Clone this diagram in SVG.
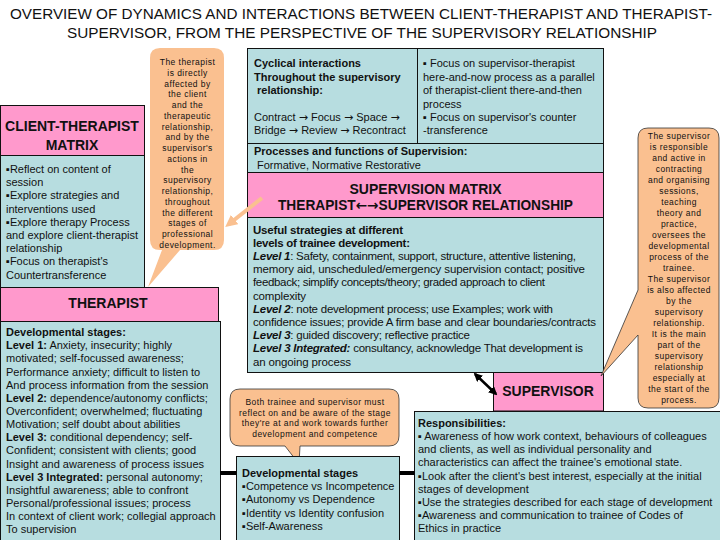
<svg xmlns="http://www.w3.org/2000/svg" width="720" height="540" viewBox="0 0 720 540">
<style>
text{font-family:"Liberation Sans",Arial,sans-serif;fill:#111}
.s{font-size:11px}
.m{font-size:11.5px}
.c{font-size:11px}
.b{font-weight:bold}
.bi{font-weight:bold;font-style:italic}
.ar{font-family:"DejaVu Sans",sans-serif}
.h{font-size:14px;font-weight:bold;text-anchor:middle}
.k{font-size:8.5px;letter-spacing:0.45px;text-anchor:middle;fill:#111}
.pk{fill:#ff99cc;stroke:#111;stroke-width:1}
.bl{fill:#b7dde0;stroke:#111;stroke-width:1}
.or{fill:#fac090}
.orb{fill:#fac090;stroke:#333;stroke-width:0.8}
.ttl{font-size:14.5px;text-anchor:middle}
.blk{stroke:#000;stroke-width:4;fill:none}
</style>
<defs>
<marker id="ah" viewBox="0 0 10 10" refX="8" refY="5" markerWidth="3.5" markerHeight="3.5" orient="auto-start-reverse"><path d="M0,0 L10,5 L0,10 z" fill="#000"/></marker>
<marker id="oh" viewBox="0 0 10 10" refX="6" refY="5" markerWidth="3" markerHeight="3" orient="auto"><path d="M0,0 L10,5 L0,10 z" fill="#fac090"/></marker>
</defs>
<rect width="720" height="540" fill="#fff"/>

<g id="title">
<text class="ttl" x="361" y="19" textLength="702" lengthAdjust="spacingAndGlyphs">OVERVIEW OF DYNAMICS AND INTERACTIONS BETWEEN CLIENT-THERAPIST AND THERAPIST-</text>
<text class="ttl" x="362" y="38" textLength="590" lengthAdjust="spacingAndGlyphs">SUPERVISOR, FROM THE PERSPECTIVE OF THE SUPERVISORY RELATIONSHIP</text>
</g>

<g id="client-therapist-matrix">
<rect class="pk" x="0.5" y="105.5" width="144" height="50"/>
<text class="h" x="72" y="131">CLIENT-THERAPIST</text>
<text class="h" x="72" y="150">MATRIX</text>
<rect class="bl" x="0.5" y="155.5" width="144" height="132"/>
<text class="c" x="6" y="173">▪Reflect on content of</text>
<text class="c" x="6" y="186.2">session</text>
<text class="c" x="6" y="199.4">▪Explore strategies and</text>
<text class="c" x="6" y="212.6">interventions used</text>
<text class="c" x="6" y="225.8">▪Explore therapy Process</text>
<text class="c" x="6" y="239">and explore client-therapist</text>
<text class="c" x="6" y="252.2">relationship</text>
<text class="c" x="6" y="265.4">▪Focus on therapist's</text>
<text class="c" x="6" y="278.6">Countertransference</text>
</g>

<g id="therapist">
<rect class="pk" x="0.5" y="287.5" width="218" height="34"/>
<text class="h" x="108" y="308">THERAPIST</text>
<rect class="bl" x="0.5" y="321.5" width="220" height="225"/>
<text class="s" x="6" y="336"><tspan class="b">Developmental stages:</tspan></text>
<text class="s" x="6" y="349.2"><tspan class="b">Level 1:</tspan> Anxiety, insecurity; highly</text>
<text class="s" x="6" y="362.3">motivated; self-focussed awareness;</text>
<text class="s" x="6" y="375.5">Performance anxiety; difficult to listen to</text>
<text class="s" x="6" y="388.6">And process information from the session</text>
<text class="s" x="6" y="401.8"><tspan class="b">Level 2:</tspan> dependence/autonomy conflicts;</text>
<text class="s" x="6" y="414.9">Overconfident; overwhelmed; fluctuating</text>
<text class="s" x="6" y="428.1">Motivation; self doubt about abilities</text>
<text class="s" x="6" y="441.2"><tspan class="b">Level 3:</tspan> conditional dependency; self-</text>
<text class="s" x="6" y="454.4">Confident; consistent with clients; good</text>
<text class="s" x="6" y="467.5">Insight and awareness of process issues</text>
<text class="s" x="6" y="480.7"><tspan class="b">Level 3 Integrated:</tspan> personal autonomy;</text>
<text class="s" x="6" y="493.8">Insightful awareness; able to confront</text>
<text class="s" x="6" y="507">Personal/professional issues; process</text>
<text class="s" x="6" y="520.1">In context of client work; collegial approach</text>
<text class="s" x="6" y="533.3">To supervision</text>
</g>

<g id="therapist-callout">
<path class="or" d="M162,250 L148,287 L180,250 H214 Q224,250 224,240 V58 Q224,48 214,48 H160 Q150,48 150,58 V240 Q150,250 160,250 Z"/>
<text class="k" x="187.5" y="65">The therapist</text>
<text class="k" x="187.5" y="75.8">is directly</text>
<text class="k" x="187.5" y="86.5">affected by</text>
<text class="k" x="187.5" y="97.3">the client</text>
<text class="k" x="187.5" y="108">and the</text>
<text class="k" x="187.5" y="118.8">therapeutic</text>
<text class="k" x="187.5" y="129.6">relationship,</text>
<text class="k" x="187.5" y="140.3">and by the</text>
<text class="k" x="187.5" y="151.1">supervisor's</text>
<text class="k" x="187.5" y="161.8">actions in</text>
<text class="k" x="187.5" y="172.6">the</text>
<text class="k" x="187.5" y="183.4">supervisory</text>
<text class="k" x="187.5" y="194.1">relationship,</text>
<text class="k" x="187.5" y="204.9">throughout</text>
<text class="k" x="187.5" y="215.7">the different</text>
<text class="k" x="187.5" y="226.4">stages of</text>
<text class="k" x="187.5" y="237.2">professional</text>
<text class="k" x="187.5" y="248">development.</text>
</g>

<g id="supervision-matrix">
<rect class="bl" x="247.5" y="48.5" width="356" height="95"/>
<line x1="417.5" y1="48.5" x2="417.5" y2="143.5" stroke="#111"/>
<text class="s b" x="254" y="67">Cyclical interactions</text>
<text class="s b" x="254" y="81">Throughout the supervisory</text>
<text class="s b" x="257" y="94">relationship:</text>
<text class="s" x="254" y="121">Contract <tspan class="ar">→</tspan> Focus <tspan class="ar">→</tspan> Space <tspan class="ar">→</tspan></text>
<text class="s" x="254" y="134">Bridge <tspan class="ar">→</tspan> Review <tspan class="ar">→</tspan> Recontract</text>
<text class="s" x="423" y="67">▪ Focus on supervisor-therapist</text>
<text class="s" x="423" y="81">here-and-now process as a parallel</text>
<text class="s" x="423" y="94">of therapist-client there-and-then</text>
<text class="s" x="423" y="108">process</text>
<text class="s" x="423" y="121">▪ Focus on supervisor's counter</text>
<text class="s" x="423" y="134">-transference</text>
<rect class="bl" x="247.5" y="143.5" width="356" height="29"/>
<text class="s b" x="254" y="155">Processes and functions of Supervision:</text>
<text class="s" x="257" y="169">Formative, Normative  Restorative</text>
<rect class="pk" x="247.5" y="172.5" width="356" height="45"/>
<text class="h" x="425.5" y="193.5">SUPERVISION MATRIX</text>
<text class="h" x="425.5" y="210" textLength="295" lengthAdjust="spacingAndGlyphs">THERAPIST<tspan class="ar">←→</tspan>SUPERVISOR RELATIONSHIP</text>
<rect class="bl" x="247.5" y="217.5" width="356" height="155"/>
<text class="m b" x="253" y="233.5" textLength="150">Useful strategies at different</text>
<text class="m b" x="253" y="246.7" textLength="157">levels of trainee development:</text>
<text class="m" x="253" y="259.9" textLength="323"><tspan class="bi">Level 1</tspan>: Safety, containment, support, structure, attentive listening,</text>
<text class="m" x="253" y="273.1" textLength="332">memory aid, unscheduled/emergency  supervision contact; positive</text>
<text class="m" x="253" y="286.3" textLength="292">feedback;  simplify concepts/theory; graded approach to client</text>
<text class="m" x="253" y="299.5" textLength="53">complexity</text>
<text class="m" x="253" y="312.7" textLength="300"><tspan class="bi">Level 2</tspan>: note development process; use Examples; work with</text>
<text class="m" x="253" y="325.9" textLength="343">confidence issues; provide A firm base and clear boundaries/contracts</text>
<text class="m" x="253" y="339.1" textLength="217"><tspan class="bi">Level 3</tspan>: guided discovery; reflective practice</text>
<text class="m" x="253" y="352.3" textLength="330"><tspan class="bi">Level 3 Integrated:</tspan> consultancy, acknowledge That development is</text>
<text class="m" x="253" y="365.5" textLength="98">an ongoing process</text>
</g>

<g id="supervisor">
<rect class="pk" x="493.5" y="372.5" width="110" height="38.5"/>
<text class="h" x="548" y="396">SUPERVISOR</text>
</g>

<g id="supervisor-callout">
<path class="orb" d="M648,128 H709 Q719,128 719,138 V398 Q719,408 709,408 H648 Q638,408 638,398 V335 L601,376 L638,290 V138 Q638,128 648,128 Z"/>
<text class="k" x="679" y="139">The supervisor</text>
<text class="k" x="679" y="150">is responsible</text>
<text class="k" x="679" y="161">and active in</text>
<text class="k" x="679" y="172">contracting</text>
<text class="k" x="679" y="183">and organising</text>
<text class="k" x="679" y="194">sessions,</text>
<text class="k" x="679" y="205">teaching</text>
<text class="k" x="679" y="216">theory and</text>
<text class="k" x="679" y="227">practice,</text>
<text class="k" x="679" y="238">oversees the</text>
<text class="k" x="679" y="249">developmental</text>
<text class="k" x="679" y="260">process of the</text>
<text class="k" x="679" y="270.5">trainee.</text>
<text class="k" x="679" y="281.5">The supervisor</text>
<text class="k" x="679" y="292.5">is also affected</text>
<text class="k" x="679" y="303.5">by the</text>
<text class="k" x="679" y="314.5">supervisory</text>
<text class="k" x="679" y="325.5">relationship.</text>
<text class="k" x="679" y="336.5">It is the main</text>
<text class="k" x="679" y="347.5">part of the</text>
<text class="k" x="679" y="358.5">supervisory</text>
<text class="k" x="679" y="369.5">relationship</text>
<text class="k" x="679" y="380.5">especially at</text>
<text class="k" x="679" y="391.5">the start of the</text>
<text class="k" x="679" y="402.5">process.</text>
</g>

<g id="stage-callout">
<path class="orb" d="M240,389 H389 Q399,389 399,399 V436 Q399,446 389,446 H300 L299,464 L285,446 H240 Q230,446 230,436 V399 Q230,389 240,389 Z"/>
<text class="k" x="315" y="405">Both trainee and supervisor must</text>
<text class="k" x="315" y="415.5">reflect on and be aware of the stage</text>
<text class="k" x="315" y="426">they're at and work towards further</text>
<text class="k" x="315" y="437">development and competence</text>
</g>

<g id="developmental-stages">
<rect class="bl" x="236.5" y="456.5" width="163" height="90"/>
<text class="s b" x="242" y="477">Developmental stages</text>
<text class="s" x="242" y="490.2">▪Competence vs Incompetence</text>
<text class="s" x="242" y="503.4">▪Autonomy vs Dependence</text>
<text class="s" x="242" y="516.6">▪Identity vs Identity confusion</text>
<text class="s" x="242" y="529.8">▪Self-Awareness</text>
</g>

<g id="responsibilities">
<rect class="bl" x="414.5" y="411.5" width="310" height="140"/>
<text class="s b" x="418" y="426.7">Responsibilities:</text>
<text class="s" x="418" y="439.9">▪ Awareness of how work context, behaviours of colleagues</text>
<text class="s" x="418" y="453.1">and clients, as well as individual personality and</text>
<text class="s" x="418" y="466.3">characteristics can affect the trainee's emotional state.</text>
<text class="s" x="418" y="479.5">▪Look after the client's best interest, especially at the initial</text>
<text class="s" x="418" y="492.7">stages of development</text>
<text class="s" x="418" y="505.9">▪Use the strategies described for each stage of development</text>
<text class="s" x="418" y="519.1">▪Awareness and communication to trainee of Codes of</text>
<text class="s" x="418" y="532.3">Ethics in practice</text>
</g>

<g id="connectors">
<line class="blk" x1="220" y1="473" x2="236.5" y2="473"/>
<line class="blk" x1="399.5" y1="473" x2="414.5" y2="473"/>
<line x1="475" y1="374" x2="496" y2="394" stroke="#000" stroke-width="2.5" marker-start="url(#ah)" marker-end="url(#ah)"/>
<line x1="262" y1="198" x2="229" y2="224" stroke="#fac090" stroke-width="4" marker-end="url(#oh)"/>
</g>
</svg>
